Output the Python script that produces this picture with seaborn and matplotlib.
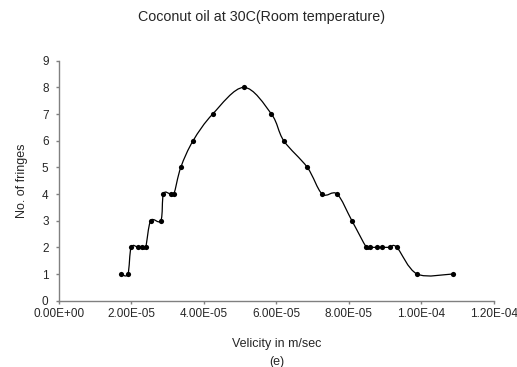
import numpy as np
import seaborn as sns
import matplotlib
matplotlib.use("Agg")
import matplotlib.pyplot as plt
from matplotlib.path import Path
from matplotlib.patches import PathPatch
from matplotlib.ticker import FuncFormatter

# velocity (m/sec) and fringe count
velocity = [1.70e-5, 1.90e-5, 1.99e-5, 2.19e-5, 2.28e-5, 2.39e-5, 2.53e-5,
            2.81e-5, 2.88e-5, 3.08e-5, 3.17e-5, 3.36e-5, 3.70e-5, 4.24e-5,
            5.10e-5, 5.86e-5, 6.20e-5, 6.85e-5, 7.26e-5, 7.67e-5, 8.08e-5,
            8.48e-5, 8.57e-5, 8.76e-5, 8.90e-5, 9.12e-5, 9.32e-5, 9.88e-5,
            1.086e-4]
fringes = [1, 1, 2, 2, 2, 2, 3, 3, 4, 4, 4, 5, 6, 7, 8, 7, 6, 5, 4, 4, 3,
           2, 2, 2, 2, 2, 2, 1, 1]
x_ticks = [0, 2e-5, 4e-5, 6e-5, 8e-5, 1e-4, 1.2e-4]
y_ticks = list(range(10))

sns.set_style("white")
plt.rcParams['font.family'] = ['Liberation Sans', 'DejaVu Sans']

fig = plt.figure(figsize=(5.17, 3.67), dpi=100)
ax = fig.add_axes([0.1141, 0.1807, 0.8414, 0.6539])

# smoothed line like the spreadsheet's "smooth line" option
pts = np.column_stack([velocity, fringes])
verts = [pts[0]]
codes = [Path.MOVETO]
for i in range(len(pts) - 1):
    p_prev = pts[i - 1] if i > 0 else pts[i]
    p_next = pts[i + 2] if i + 2 < len(pts) else pts[i + 1]
    c1 = pts[i] + (pts[i + 1] - p_prev) / 6
    c2 = pts[i + 1] - (p_next - pts[i]) / 6
    verts += [c1, c2, pts[i + 1]]
    codes += [Path.CURVE4] * 3
ax.add_patch(PathPatch(Path(verts, codes), facecolor='none',
                       edgecolor='black', lw=0.9))

sns.scatterplot(x=velocity, y=fringes, ax=ax, color='black', s=14,
                edgecolor='black', linewidth=0, zorder=3)

ax.set_xlim(0, 1.2e-4)
ax.set_ylim(0, 9)
ax.set_xticks(x_ticks)
ax.set_yticks(y_ticks)
ax.xaxis.set_major_formatter(FuncFormatter(lambda v, p: f"{v:.2E}"))
ax.tick_params(axis='both', labelsize=8.5, length=2.5, width=1,
               color='#808080', direction='out', bottom=True, left=True)
ax.tick_params(axis='x', pad=2.8)
ax.tick_params(axis='y', pad=5)

for side in ['top', 'right']:
    ax.spines[side].set_visible(False)
for side in ['left', 'bottom']:
    ax.spines[side].set_color('#808080')
    ax.spines[side].set_linewidth(1)

ax.set_xlabel("Velicity in m/sec", fontsize=9, labelpad=13)
ax.set_ylabel("No. of fringes", fontsize=9, labelpad=10)
fig.text(0.505, 0.953, "Coconut oil at 30C(Room temperature)",
         ha='center', va='center', fontsize=10.3)
fig.text(0.535, 0.0145, "(e)", ha='center', va='center', fontsize=9)

fig.savefig("out.png", dpi=100)
